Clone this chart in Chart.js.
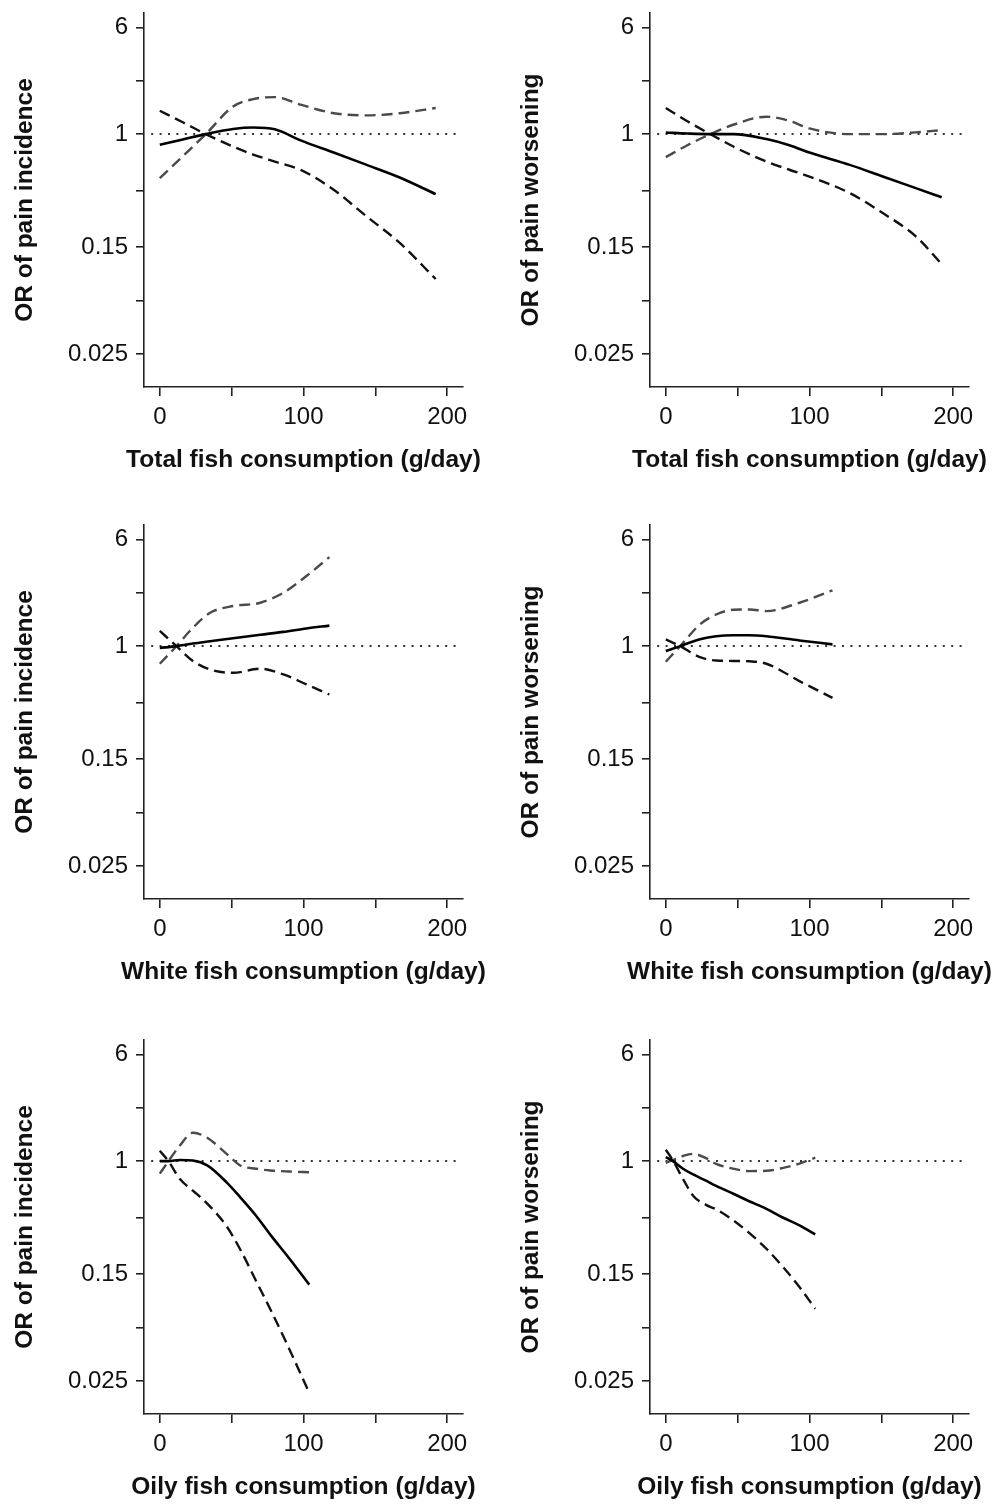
<!DOCTYPE html>
<html>
<head>
<meta charset="utf-8">
<script src="https://cdn.jsdelivr.net/npm/chart.js@4.4.1/dist/chart.umd.min.js"></script>
<style>
  html, body { margin: 0; padding: 0; background: #fff; overflow: hidden; }
  .panel { position: absolute; width: 490px; height: 477px; }
</style>
</head>
<body>
<div class="panel" style="left:0;top:0"><canvas id="p1" width="490" height="477"></canvas></div>
<div class="panel" style="left:506px;top:0"><canvas id="p2" width="490" height="477"></canvas></div>
<div class="panel" style="left:0;top:512px"><canvas id="p3" width="490" height="477"></canvas></div>
<div class="panel" style="left:506px;top:512px"><canvas id="p4" width="490" height="477"></canvas></div>
<div class="panel" style="left:0;top:1027px"><canvas id="p5" width="490" height="477"></canvas></div>
<div class="panel" style="left:506px;top:1027px"><canvas id="p6" width="490" height="477"></canvas></div>
<script>
// axis ticks
const X_TICKS = [0, 50, 100, 150, 200];
const X_TICK_LABELS = [0, 100, 200];
const Y_TICKS = [6, 2.449, 1, 0.387, 0.15, 0.0612, 0.025];
const Y_TICK_LABELS = [6, 1, 0.15, 0.025];

// reference line OR = 1
const REF_X = [-6, 208];
const REF_Y = [1, 1];

// total fish - pain incidence
const totalIncX   = [0, 16, 32, 51, 65, 80, 98, 121, 144, 167, 192];
const totalIncOR  = [0.836, 0.915, 1.0, 1.09, 1.117, 1.085, 0.90, 0.734, 0.597, 0.483, 0.365];
const totalIncUp  = [0.478, 0.69, 1.0, 1.59, 1.80, 1.86, 1.64, 1.42, 1.37, 1.42, 1.55];
const totalIncLow = [1.48, 1.22, 1.0, 0.812, 0.71, 0.63, 0.549, 0.393, 0.251, 0.161, 0.088];

// total fish - pain worsening
const totalWorX   = [0, 15, 31, 47, 70, 86, 100, 128, 151, 174, 192];
const totalWorOR  = [1.027, 1.01, 1.0, 1.0, 0.92, 0.83, 0.734, 0.597, 0.491, 0.404, 0.347];
const totalWorUp  = [0.68, 0.83, 1.0, 1.17, 1.34, 1.25, 1.10, 1.0, 1.0, 1.03, 1.07];
const totalWorLow = [1.55, 1.24, 1.0, 0.812, 0.632, 0.55, 0.491, 0.372, 0.266, 0.18, 0.113];

// white fish - pain incidence
const whiteIncX   = [0, 11.6, 23, 35, 51, 70, 86, 102, 118];
const whiteIncOR  = [0.97, 1.0, 1.045, 1.085, 1.14, 1.21, 1.27, 1.345, 1.41];
const whiteIncUp  = [0.744, 1.0, 1.36, 1.75, 1.96, 2.07, 2.45, 3.24, 4.45];
const whiteIncLow = [1.29, 1.0, 0.78, 0.676, 0.639, 0.684, 0.622, 0.526, 0.444];

// white fish - pain worsening
const whiteWorX   = [0, 10, 23.8, 35, 47, 58, 70, 93, 116];
const whiteWorOR  = [0.92, 1.0, 1.12, 1.18, 1.20, 1.20, 1.18, 1.10, 1.03];
const whiteWorUp  = [0.77, 1.0, 1.44, 1.70, 1.84, 1.85, 1.80, 2.07, 2.55];
const whiteWorLow = [1.12, 1.0, 0.83, 0.786, 0.78, 0.775, 0.744, 0.556, 0.42];

// oily fish - pain incidence
const oilyIncX   = [0, 6, 14, 23, 33, 46.5, 56, 67, 77, 90, 104];
const oilyIncOR  = [1.0, 1.0, 1.02, 1.01, 0.93, 0.70, 0.545, 0.40, 0.29, 0.196, 0.126];
const oilyIncUp  = [0.81, 1.0, 1.30, 1.61, 1.48, 1.13, 0.93, 0.88, 0.855, 0.84, 0.83];
const oilyIncLow = [1.19, 1.0, 0.74, 0.61, 0.49, 0.335, 0.227, 0.134, 0.083, 0.043, 0.0205];

// oily fish - pain worsening
const oilyWorX   = [0, 5, 12, 19, 28, 35, 47, 58, 70, 81, 93, 104];
const oilyWorOR  = [1.07, 1.0, 0.88, 0.80, 0.72, 0.66, 0.578, 0.51, 0.449, 0.39, 0.34, 0.292];
const oilyWorUp  = [0.97, 1.02, 1.09, 1.13, 1.05, 0.955, 0.88, 0.846, 0.85, 0.889, 0.96, 1.06];
const oilyWorLow = [1.21, 1.01, 0.74, 0.56, 0.48, 0.445, 0.37, 0.30, 0.23, 0.172, 0.121, 0.084];

const FONT = "'Liberation Sans', Arial, Helvetica, sans-serif";
const H = 477;
const AREA = { left: 144, top: 13, right: 463, bottom: 387 };

function points(xs, ys) {
  return xs.map((x, i) => ({ x: x, y: ys[i] }));
}

// chart.js squeezes axis titles into the axis width, so the x title is drawn here instead
const xTitlePlugin = {
  id: 'xTitle',
  afterDraw(chart, args, opts) {
    const { ctx, chartArea } = chart;
    ctx.save();
    ctx.font = 'bold 24.5px ' + FONT;
    ctx.fillStyle = '#111';
    ctx.textAlign = 'center';
    ctx.textBaseline = 'middle';
    ctx.fillText(opts.text, (chartArea.left + chartArea.right) / 2, opts.y);
    ctx.restore();
  },
};

function drawPanel(id, xs, est, up, low, xTitle, yTitle) {
  const canvas = document.getElementById(id);
  new Chart(canvas, {
    type: 'line',
    data: {
      datasets: [
        { data: points(xs, est), borderColor: '#000', borderWidth: 2.6 },
        { data: points(xs, up), borderColor: '#4a4a4a', borderWidth: 2.4, borderDash: [11, 6] },
        { data: points(xs, low), borderColor: '#111', borderWidth: 2.4, borderDash: [11, 6] },
        { data: points(REF_X, REF_Y), borderColor: '#333', borderWidth: 2, borderDash: [2, 6.4] },
      ],
    },
    plugins: [xTitlePlugin],
    options: {
      responsive: false,
      animation: false,
      elements: {
        point: { radius: 0 },
        line: { cubicInterpolationMode: 'monotone' },
      },
      layout: { padding: { left: 0, top: AREA.top, right: canvas.width - AREA.right, bottom: 0 } },
      plugins: {
        legend: { display: false },
        tooltip: { enabled: false },
        xTitle: { text: xTitle, y: 460 },
      },
      scales: {
        x: {
          type: 'linear',
          min: -11,
          max: 211,
          afterBuildTicks: (s) => { s.ticks = X_TICKS.map(v => ({ value: v })); },
          afterFit: (s) => { s.height = H - AREA.bottom; s.paddingLeft = 0; s.paddingRight = 0; },
          grid: { drawOnChartArea: false, drawTicks: true, tickLength: 9, color: '#222', lineWidth: 1.6 },
          border: { display: true, color: '#222', width: 1.6 },
          ticks: {
            autoSkip: false, maxRotation: 0, padding: 7, color: '#111',
            font: { family: FONT, size: 24 },
            callback: (v) => X_TICK_LABELS.includes(v) ? String(v) : '',
          },
          title: { display: false },
        },
        y: {
          type: 'logarithmic',
          min: 0.01437,
          max: 7.63,
          afterBuildTicks: (s) => { s.ticks = Y_TICKS.map(v => ({ value: v })); },
          afterFit: (s) => { s.width = AREA.left; s.paddingTop = 0; s.paddingBottom = 0; },
          grid: { drawOnChartArea: false, drawTicks: true, tickLength: 8, color: '#222', lineWidth: 1.6 },
          border: { display: true, color: '#222', width: 1.6 },
          ticks: {
            autoSkip: false, padding: 8, color: '#111',
            font: { family: FONT, size: 24 },
            callback: (v) => Y_TICK_LABELS.includes(v) ? String(v) : '',
          },
          title: {
            display: true, text: yTitle, color: '#111',
            font: { family: FONT, size: 24.5, weight: 'bold' },
            padding: { top: 11, bottom: 0 },
          },
        },
      },
    },
  });
}

drawPanel('p1', totalIncX, totalIncOR, totalIncUp, totalIncLow, 'Total fish consumption (g/day)', 'OR of pain incidence');
drawPanel('p2', totalWorX, totalWorOR, totalWorUp, totalWorLow, 'Total fish consumption (g/day)', 'OR of pain worsening');
drawPanel('p3', whiteIncX, whiteIncOR, whiteIncUp, whiteIncLow, 'White fish consumption (g/day)', 'OR of pain incidence');
drawPanel('p4', whiteWorX, whiteWorOR, whiteWorUp, whiteWorLow, 'White fish consumption (g/day)', 'OR of pain worsening');
drawPanel('p5', oilyIncX, oilyIncOR, oilyIncUp, oilyIncLow, 'Oily fish consumption (g/day)', 'OR of pain incidence');
drawPanel('p6', oilyWorX, oilyWorOR, oilyWorUp, oilyWorLow, 'Oily fish consumption (g/day)', 'OR of pain worsening');
</script>
</body>
</html>
